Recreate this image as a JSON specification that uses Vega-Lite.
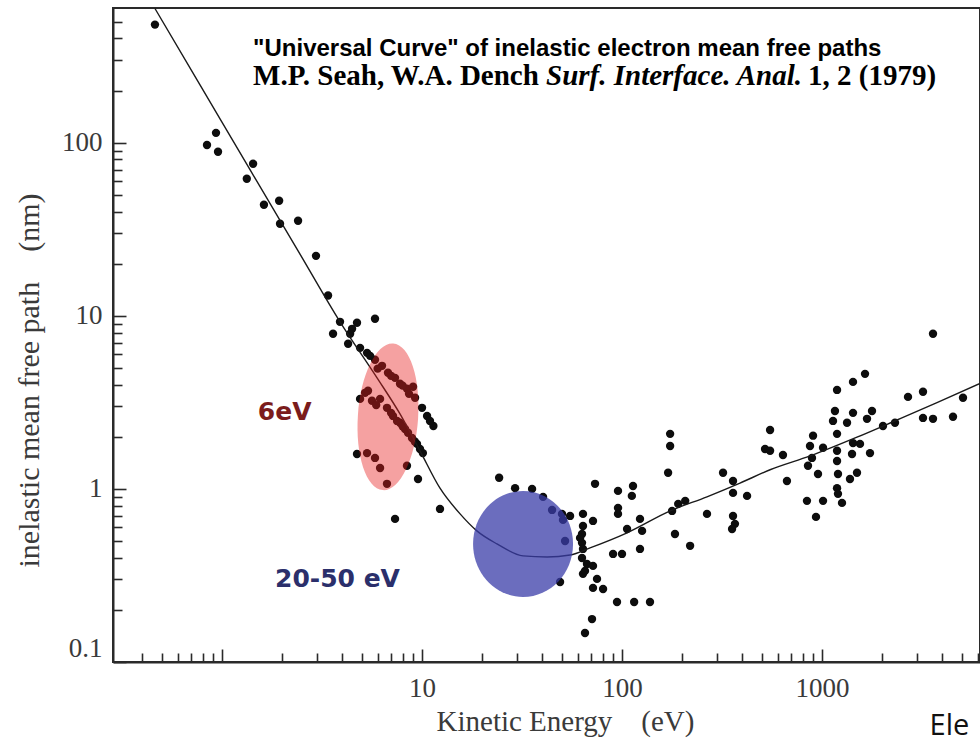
{
  "$schema": "https://vega.github.io/schema/vega-lite/v6.json",
  "width": 867,
  "height": 654,
  "autosize": {"type": "none"},
  "padding": {"left": 113, "top": 8, "right": 0, "bottom": 85},
  "background": "white",
  "config": {
    "view": {"stroke": "#2a2a2a", "strokeWidth": 2},
    "axis": {
      "grid": false,
      "domainColor": "#2a2a2a",
      "domainWidth": 2,
      "tickColor": "#2a2a2a",
      "tickWidth": 1.6,
      "labelFont": "Liberation Serif",
      "labelFontSize": 27,
      "labelColor": "#3a3a3a",
      "titleFont": "Liberation Serif",
      "titleFontSize": 30,
      "titleFontWeight": "normal",
      "titleColor": "#3a3a3a",
      "labelOverlap": false
    }
  },
  "datasets": {
    "pts": [
      {"E": 0.462, "L": 481}, {"E": 0.933, "L": 114}, {"E": 0.841, "L": 97}, {"E": 0.955, "L": 88.7},
      {"E": 1.43, "L": 75.6}, {"E": 1.33, "L": 61.9}, {"E": 1.62, "L": 43.8}, {"E": 1.93, "L": 46.2},
      {"E": 1.95, "L": 34.0}, {"E": 2.40, "L": 35.4}, {"E": 2.95, "L": 22.2}, {"E": 3.39, "L": 13.1},
      {"E": 3.89, "L": 9.23}, {"E": 4.73, "L": 9.11}, {"E": 4.47, "L": 8.41}, {"E": 5.82, "L": 9.61},
      {"E": 3.59, "L": 7.87}, {"E": 4.37, "L": 7.87}, {"E": 4.27, "L": 6.89}, {"E": 4.90, "L": 6.53},
      {"E": 5.31, "L": 6.11}, {"E": 5.82, "L": 5.57}, {"E": 6.31, "L": 5.14}, {"E": 6.76, "L": 4.69},
      {"E": 7.33, "L": 4.38}, {"E": 7.76, "L": 4.05}, {"E": 8.41, "L": 3.79}, {"E": 9.02, "L": 3.89},
      {"E": 9.23, "L": 3.36}, {"E": 10.0, "L": 2.94}, {"E": 10.6, "L": 2.64}, {"E": 11.4, "L": 2.31},
      {"E": 4.90, "L": 3.31}, {"E": 5.37, "L": 3.69}, {"E": 5.62, "L": 3.23}, {"E": 6.17, "L": 3.31},
      {"E": 6.68, "L": 2.94}, {"E": 7.16, "L": 2.64}, {"E": 7.76, "L": 2.41}, {"E": 8.22, "L": 2.22},
      {"E": 8.91, "L": 1.97}, {"E": 9.44, "L": 1.82}, {"E": 10.1, "L": 1.61}, {"E": 4.73, "L": 1.59},
      {"E": 5.31, "L": 1.61}, {"E": 5.82, "L": 1.51}, {"E": 6.17, "L": 1.32}, {"E": 8.41, "L": 1.36},
      {"E": 9.55, "L": 1.14}, {"E": 6.68, "L": 1.07}, {"E": 12.3, "L": 0.766}, {"E": 7.33, "L": 0.671},
      {"E": 10.96, "L": 2.47}, {"E": 5.50, "L": 5.87}, {"E": 8.61, "L": 3.54}, {"E": 5.19, "L": 3.59},
      {"E": 7.50, "L": 2.47}, {"E": 8.51, "L": 2.11}, {"E": 9.77, "L": 1.70},
      {"E": 6.0, "L": 4.95}, {"E": 7.0, "L": 4.5}, {"E": 8.0, "L": 3.95}, {"E": 5.9, "L": 3.05},
      {"E": 7.0, "L": 2.75}, {"E": 8.0, "L": 2.3}, {"E": 9.2, "L": 1.88},
      {"E": 24.3, "L": 1.16}, {"E": 29.2, "L": 1.01}, {"E": 35.5, "L": 1.0}, {"E": 40.3, "L": 0.899},
      {"E": 44.7, "L": 0.756}, {"E": 50.1, "L": 0.717}, {"E": 50.7, "L": 0.662}, {"E": 55.0, "L": 0.698},
      {"E": 51.9, "L": 0.500}, {"E": 49.0, "L": 0.290}, {"E": 73.3, "L": 1.07}, {"E": 63.8, "L": 0.717},
      {"E": 71.6, "L": 0.653}, {"E": 63.8, "L": 0.611}, {"E": 63.1, "L": 0.549}, {"E": 63.1, "L": 0.488},
      {"E": 63.8, "L": 0.450}, {"E": 63.1, "L": 0.399}, {"E": 66.8, "L": 0.368}, {"E": 71.6, "L": 0.359},
      {"E": 63.8, "L": 0.323}, {"E": 75.0, "L": 0.302}, {"E": 71.6, "L": 0.268}, {"E": 80.4, "L": 0.264},
      {"E": 95.5, "L": 0.974}, {"E": 113.5, "L": 1.04}, {"E": 112, "L": 0.911}, {"E": 95.5, "L": 0.777},
      {"E": 95.5, "L": 0.717}, {"E": 106, "L": 0.587}, {"E": 123, "L": 0.671}, {"E": 126, "L": 0.572},
      {"E": 90.2, "L": 0.421}, {"E": 100, "L": 0.421}, {"E": 123, "L": 0.450}, {"E": 174, "L": 2.08},
      {"E": 174, "L": 1.77}, {"E": 170, "L": 1.24}, {"E": 178, "L": 0.746}, {"E": 191, "L": 0.819},
      {"E": 207, "L": 0.853}, {"E": 184, "L": 0.549}, {"E": 219, "L": 0.469}, {"E": 266, "L": 0.717},
      {"E": 320, "L": 1.24}, {"E": 359, "L": 1.11}, {"E": 359, "L": 0.948}, {"E": 422, "L": 0.911},
      {"E": 359, "L": 0.698}, {"E": 367, "L": 0.628}, {"E": 355, "L": 0.587}, {"E": 94.4, "L": 0.222},
      {"E": 115, "L": 0.222}, {"E": 138, "L": 0.222}, {"E": 70.8, "L": 0.177}, {"E": 65.3, "L": 0.147},
      {"E": 61.7, "L": 0.521}, {"E": 65.3, "L": 0.336},
      {"E": 3589, "L": 7.87}, {"E": 1641, "L": 4.62}, {"E": 1429, "L": 4.15}, {"E": 1189, "L": 3.73},
      {"E": 1161, "L": 2.82}, {"E": 1429, "L": 2.75}, {"E": 1778, "L": 2.82}, {"E": 2692, "L": 3.40},
      {"E": 3199, "L": 3.64}, {"E": 5070, "L": 3.36}, {"E": 1135, "L": 2.47}, {"E": 1334, "L": 2.41},
      {"E": 1679, "L": 2.54}, {"E": 2018, "L": 2.31}, {"E": 2317, "L": 2.41}, {"E": 3199, "L": 2.57},
      {"E": 3589, "L": 2.54}, {"E": 4519, "L": 2.61}, {"E": 902, "L": 2.03}, {"E": 1189, "L": 2.08},
      {"E": 1429, "L": 1.84}, {"E": 1549, "L": 1.82}, {"E": 871, "L": 1.77}, {"E": 1012, "L": 1.73},
      {"E": 1189, "L": 1.66}, {"E": 1413, "L": 1.59}, {"E": 1738, "L": 1.61}, {"E": 550, "L": 2.19},
      {"E": 519, "L": 1.70}, {"E": 550, "L": 1.66}, {"E": 638, "L": 1.57}, {"E": 891, "L": 1.51},
      {"E": 1189, "L": 1.45}, {"E": 851, "L": 1.36}, {"E": 955, "L": 1.22}, {"E": 1202, "L": 1.22},
      {"E": 1496, "L": 1.24}, {"E": 1380, "L": 1.14}, {"E": 668, "L": 1.11}, {"E": 841, "L": 0.853},
      {"E": 1012, "L": 0.853}, {"E": 1189, "L": 1.01}, {"E": 1202, "L": 0.936}, {"E": 1259, "L": 0.830},
      {"E": 933, "L": 0.689}
    ],
    "curve": [
      {"E": 0.462, "L": 596}, {"E": 0.776, "L": 216}, {"E": 1.38, "L": 69.8}, {"E": 2.45, "L": 22.8},
      {"E": 3.89, "L": 9.23}, {"E": 5.96, "L": 4.38}, {"E": 7.76, "L": 2.71}, {"E": 9.77, "L": 1.66},
      {"E": 12.3, "L": 1.01}, {"E": 15.5, "L": 0.717}, {"E": 18.8, "L": 0.572}, {"E": 23.7, "L": 0.481},
      {"E": 32.0, "L": 0.410}, {"E": 42.2, "L": 0.404}, {"E": 55.0, "L": 0.415}, {"E": 69.2, "L": 0.456},
      {"E": 106, "L": 0.557}, {"E": 174, "L": 0.746}, {"E": 266, "L": 0.90}, {"E": 389, "L": 1.08},
      {"E": 550, "L": 1.29}, {"E": 871, "L": 1.55}, {"E": 1496, "L": 1.99}, {"E": 2371, "L": 2.5},
      {"E": 3758, "L": 3.15}, {"E": 6166, "L": 4.07}
    ]
  },
  "encoding": {
    "x": {
      "field": "E", "type": "quantitative",
      "scale": {"type": "log", "domain": [0.285, 6166], "nice": false},
      "axis": {
        "title": "Kinetic Energy\u00a0\u00a0\u00a0\u00a0(eV)",
        "titleFontSize": 29,
        "values": [0.4, 0.5, 0.6, 0.7, 0.8, 0.9, 1, 2, 3, 4, 5, 6, 7, 8, 9, 10, 20, 30, 40, 50, 60, 70, 80, 90, 100, 200, 300, 400, 500, 600, 700, 800, 900, 1000, 2000, 3000, 4000, 5000, 6000],
        "format": "d",
        "labelExpr": "(datum.value == 10 || datum.value == 100 || datum.value == 1000) ? datum.label : ''",
        "tickSize": 10,
        "labelPadding": 3,
        "encoding": {"ticks": {"y2": {"condition": {"test": "datum.value == 1 || datum.value == 10 || datum.value == 100 || datum.value == 1000", "value": -13}, "value": -9}}},
        "titleX": 452,
        "titleY": 68,
        "titleBaseline": "alphabetic",
        "titleAlign": "center"
      }
    },
    "y": {
      "field": "L", "type": "quantitative",
      "scale": {"type": "log", "domain": [0.1, 600], "nice": false},
      "axis": {
        "title": "inelastic mean free path\u00a0\u00a0\u00a0\u00a0(nm)",
        "values": [0.1, 0.2, 0.3, 0.4, 0.5, 0.6, 0.7, 0.8, 0.9, 1, 2, 3, 4, 5, 6, 7, 8, 9, 10, 20, 30, 40, 50, 60, 70, 80, 90, 100, 200, 300, 400, 500],
        "format": "~g",
        "labelExpr": "(datum.value == 0.1 || datum.value == 1 || datum.value == 10 || datum.value == 100) ? datum.label : ''",
        "labelFlush": true,
        "tickSize": 10,
        "labelPadding": 1,
        "encoding": {"ticks": {"x2": {"condition": {"test": "datum.value == 0.1 || datum.value == 1 || datum.value == 10 || datum.value == 100", "value": 13}, "value": 9}}},
        "titleX": -75,
        "titleY": 372,
        "titleAngle": 270,
        "titleBaseline": "alphabetic",
        "titleAlign": "center"
      }
    }
  },
  "layer": [
    {
      "data": {"name": "pts"},
      "mark": {"type": "point", "filled": true, "shape": "circle", "size": 70, "color": "#0d0d0d", "opacity": 1}
    },
    {
      "data": {"name": "curve"},
      "mark": {"type": "line", "color": "#1a1a1a", "strokeWidth": 1.4, "interpolate": "monotone"}
    },
    {
      "data": {"values": [{"E": 6.76, "L": 2.61}]},
      "mark": {"type": "point", "filled": true, "shape": "M 0 -1 A 0.41 1 0 1 1 0 1 A 0.41 1 0 1 1 0 -1 Z", "size": 21609, "color": "#e61e1e", "opacity": 0.42, "angle": 4}
    },
    {
      "data": {"values": [{"E": 32.0, "L": 0.481}]},
      "mark": {"type": "point", "filled": true, "shape": "M 0 -1 A 0.943 1 0 1 1 0 1 A 0.943 1 0 1 1 0 -1 Z", "size": 11236, "color": "#3a3ca8", "opacity": 0.75}
    },
    {
      "data": {"values": [{"E": 1.43, "L": 318, "t": "\"Universal Curve\" of inelastic electron mean free paths"}]},
      "mark": {"type": "text", "align": "left", "baseline": "alphabetic", "font": "Liberation Sans", "fontWeight": "bold", "fontSize": 24, "color": "#000000"},
      "encoding": {"text": {"field": "t"}}
    },
    {
      "data": {"values": [{"E": 1.43, "L": 216, "t": "M.P. Seah, W.A. Dench"}, {"E": 851, "L": 216, "t": "1, 2 (1979)"}]},
      "mark": {"type": "text", "align": "left", "baseline": "alphabetic", "font": "Liberation Serif", "fontWeight": "bold", "fontSize": 29, "color": "#000000"},
      "encoding": {"text": {"field": "t"}}
    },
    {
      "data": {"values": [{"E": 41.7, "L": 216, "t": "Surf. Interface. Anal."}]},
      "mark": {"type": "text", "align": "left", "baseline": "alphabetic", "font": "Liberation Serif", "fontWeight": "bold", "fontStyle": "italic", "fontSize": 29, "color": "#000000"},
      "encoding": {"text": {"field": "t"}}
    },
    {
      "data": {"values": [{"E": 1.51, "L": 2.79, "t": "6eV"}]},
      "mark": {"type": "text", "align": "left", "baseline": "middle", "font": "DejaVu Sans", "fontWeight": "bold", "fontSize": 25, "color": "#7b1c1c"},
      "encoding": {"text": {"field": "t"}}
    },
    {
      "data": {"values": [{"E": 1.84, "L": 0.302, "t": "20-50 eV"}]},
      "mark": {"type": "text", "align": "left", "baseline": "middle", "font": "DejaVu Sans", "fontWeight": "bold", "fontSize": 25, "color": "#2b2f6b"},
      "encoding": {"text": {"field": "t"}}
    },
    {
      "data": {"values": [{"E": 3450, "L": 0.038, "t": "Ele"}]},
      "mark": {"type": "text", "align": "left", "baseline": "alphabetic", "font": "Open Sans", "fontSize": 29, "color": "#111111"},
      "encoding": {"text": {"field": "t"}}
    }
  ]
}
